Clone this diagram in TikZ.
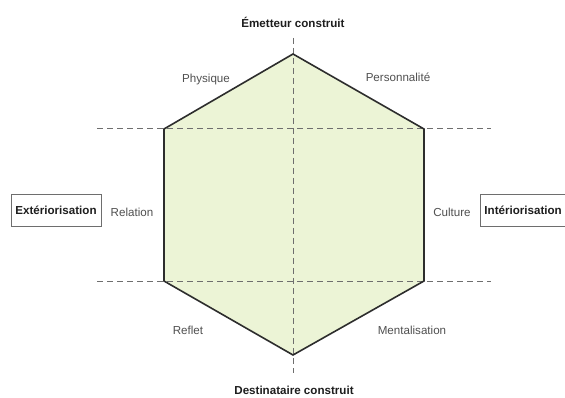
\documentclass[tikz,border=0pt]{standalone}
\usepackage{fontspec}
\setmainfont{Liberation Sans}
\definecolor{hexfill}{RGB}{236,244,214}
\definecolor{hexline}{RGB}{45,45,45}
\definecolor{dashcol}{RGB}{110,110,110}
\definecolor{labcol}{RGB}{80,80,80}
\definecolor{boldcol}{RGB}{30,30,30}
\begin{document}
\begin{tikzpicture}[x=1pt,y=-1pt,
  lab/.style={font=\fontsize{11.6}{13}\selectfont, text=labcol, inner sep=0pt},
  title/.style={font=\fontsize{11.6}{13}\selectfont\bfseries, text=boldcol, inner sep=0pt},
  sidebox/.style={draw=dashcol, line width=0.9pt, font=\fontsize{11.6}{13}\selectfont\bfseries, text=boldcol, inner xsep=4pt, minimum height=32pt},
  axis/.style={draw=dashcol, line width=1pt, dash pattern=on 6pt off 4pt},
  hexedge/.style={draw=hexline, line width=1.6pt, line join=miter}]
\useasboundingbox (0,0) rectangle (565,398);
\fill[white] (0,0) rectangle (565,398);
% vertices
\coordinate (T) at (293,54);
\coordinate (UL) at (164,129);
\coordinate (UR) at (424,129);
\coordinate (LL) at (164,281);
\coordinate (LR) at (424,281);
\coordinate (B) at (293,355);
% axis ends
\coordinate (VT) at (293,38);
\coordinate (VB) at (293,373);
\coordinate (HTL) at (97,129);
\coordinate (HTR) at (491,129);
\coordinate (HBL) at (97,281);
\coordinate (HBR) at (491,281);
% fill
\fill[hexfill] (T) -- (UR) -- (LR) -- (B) -- (LL) -- (UL) -- cycle;
% axes
\draw[axis] (VT) -- (VB);
\draw[axis] (HTL) -- (HTR);
\draw[axis] (HBL) -- (HBR);
% outline
\draw[hexedge] (T) -- (UR) -- (LR) -- (B) -- (LL) -- (UL) -- cycle;
% labels
\node[title] (em) at (293,22) {Émetteur construit};
\node[title] (de) at (294,390) {Destinataire construit};
\node[lab] (ph) at (206,80) {Physique};
\node[lab] (pe) at (398,77) {Personnalité};
\node[lab] (re) at (132,212) {Relation};
\node[lab] (cu) at (452,212) {Culture};
\node[lab] (rf) at (188,330) {Reflet};
\node[lab] (me) at (412,330) {Mentalisation};
\node[sidebox, minimum width=90pt] (ext) at (56,210) {Extériorisation};
\node[sidebox, anchor=west, text width=90pt, align=left] (int) at (480,210) {Intériorisation};
\end{tikzpicture}
\end{document}
